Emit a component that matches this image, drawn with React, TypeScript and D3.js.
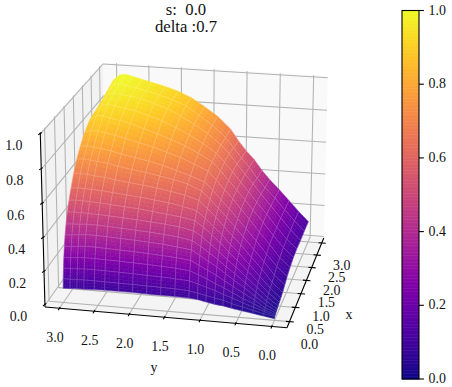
import React from "react";
import * as d3 from "d3";

const W = 452, H = 387;
const titleLines = ["s:  0.0", "delta :0.7"];
const tickX = [0, 0.5, 1, 1.5, 2, 2.5, 3];
const tickY = [0, 0.5, 1, 1.5, 2, 2.5, 3];
const tickZ = [0, 0.2, 0.4, 0.6, 0.8, 1];
const barTicks = [0, 0.2, 0.4, 0.6, 0.8, 1];

const xValues = [0, 0.015, 0.04, 0.07, 0.11, 0.16, 0.22, 0.3, 0.4, 0.52, 0.67, 0.85, 1.05, 1.3, 1.6, 1.9, 2.25, 2.6, 3];
const yValues = [0, 0.15, 0.3, 0.45, 0.6, 0.72, 0.84, 0.96, 1.08, 1.2, 1.4, 1.6, 1.8, 2, 2.2, 2.4, 2.55, 2.7, 2.8, 2.9, 3];
// one row per x value, one column per y value
const zValues = [
  [0, 0.01, 0.02, 0.03, 0.04, 0.05, 0.055, 0.065, 0.075, 0.08, 0.082, 0.082, 0.083, 0.085, 0.085, 0.085, 0.083, 0.08, 0.08, 0.078, 0.075],
  [0.01, 0.02, 0.035, 0.05, 0.065, 0.08, 0.09, 0.1, 0.11, 0.12, 0.125, 0.127, 0.128, 0.13, 0.131, 0.132, 0.133, 0.133, 0.132, 0.13, 0.13],
  [0.01, 0.03, 0.05, 0.07, 0.095, 0.11, 0.13, 0.145, 0.16, 0.175, 0.18, 0.185, 0.187, 0.19, 0.192, 0.194, 0.195, 0.195, 0.193, 0.19, 0.19],
  [0.012, 0.035, 0.065, 0.09, 0.12, 0.145, 0.165, 0.19, 0.21, 0.23, 0.238, 0.243, 0.247, 0.25, 0.253, 0.255, 0.257, 0.257, 0.255, 0.25, 0.25],
  [0.015, 0.04, 0.08, 0.115, 0.15, 0.18, 0.21, 0.235, 0.26, 0.285, 0.295, 0.3, 0.305, 0.31, 0.313, 0.316, 0.319, 0.319, 0.316, 0.31, 0.31],
  [0.017, 0.05, 0.095, 0.14, 0.18, 0.215, 0.25, 0.28, 0.31, 0.34, 0.35, 0.36, 0.365, 0.37, 0.374, 0.378, 0.381, 0.381, 0.377, 0.372, 0.37],
  [0.02, 0.06, 0.11, 0.16, 0.21, 0.245, 0.285, 0.32, 0.355, 0.385, 0.4, 0.408, 0.415, 0.42, 0.425, 0.43, 0.433, 0.433, 0.43, 0.428, 0.425],
  [0.025, 0.07, 0.125, 0.18, 0.235, 0.275, 0.32, 0.36, 0.4, 0.43, 0.447, 0.456, 0.463, 0.47, 0.475, 0.48, 0.483, 0.485, 0.487, 0.487, 0.485],
  [0.03, 0.08, 0.14, 0.2, 0.26, 0.305, 0.355, 0.4, 0.44, 0.475, 0.49, 0.5, 0.51, 0.52, 0.526, 0.532, 0.537, 0.54, 0.542, 0.543, 0.54],
  [0.035, 0.09, 0.155, 0.22, 0.285, 0.33, 0.385, 0.43, 0.475, 0.515, 0.535, 0.55, 0.56, 0.57, 0.578, 0.586, 0.592, 0.595, 0.597, 0.598, 0.595],
  [0.045, 0.1, 0.175, 0.24, 0.31, 0.36, 0.41, 0.465, 0.51, 0.555, 0.58, 0.595, 0.61, 0.62, 0.63, 0.64, 0.65, 0.655, 0.66, 0.662, 0.66],
  [0.06, 0.115, 0.19, 0.26, 0.33, 0.385, 0.44, 0.49, 0.54, 0.585, 0.62, 0.64, 0.655, 0.67, 0.682, 0.695, 0.708, 0.715, 0.72, 0.725, 0.72],
  [0.08, 0.135, 0.205, 0.28, 0.35, 0.405, 0.46, 0.51, 0.565, 0.61, 0.64, 0.665, 0.69, 0.71, 0.725, 0.74, 0.755, 0.765, 0.77, 0.775, 0.77],
  [0.095, 0.15, 0.225, 0.295, 0.37, 0.425, 0.485, 0.535, 0.59, 0.64, 0.675, 0.71, 0.735, 0.76, 0.78, 0.8, 0.815, 0.825, 0.835, 0.835, 0.82],
  [0.11, 0.165, 0.235, 0.31, 0.38, 0.44, 0.495, 0.55, 0.605, 0.655, 0.7, 0.74, 0.77, 0.8, 0.825, 0.85, 0.865, 0.875, 0.885, 0.885, 0.86],
  [0.115, 0.17, 0.24, 0.315, 0.385, 0.445, 0.5, 0.56, 0.615, 0.665, 0.72, 0.765, 0.805, 0.84, 0.865, 0.89, 0.9, 0.91, 0.92, 0.91, 0.87],
  [0.115, 0.175, 0.245, 0.315, 0.385, 0.445, 0.5, 0.56, 0.62, 0.67, 0.735, 0.785, 0.83, 0.87, 0.895, 0.92, 0.93, 0.94, 0.945, 0.93, 0.885],
  [0.12, 0.18, 0.245, 0.315, 0.375, 0.43, 0.495, 0.55, 0.61, 0.67, 0.74, 0.795, 0.85, 0.88, 0.905, 0.925, 0.94, 0.95, 0.96, 0.95, 0.905],
  [0.12, 0.18, 0.245, 0.31, 0.37, 0.425, 0.49, 0.54, 0.6, 0.67, 0.745, 0.8, 0.85, 0.885, 0.91, 0.93, 0.945, 0.96, 0.97, 0.965, 0.93],
];

const xLim: [number, number] = [-0.21, 3.21];
const yLim: [number, number] = [-0.21, 3.21];
const zLim: [number, number] = [-0.01, 1.01];
const elev = (20 * Math.PI) / 180, azim = (192 * Math.PI) / 180, dist = 10;
const scaleS = 2002, originX = 190.3, originY = 188.3;

const sx = d3.scaleLinear().domain(xLim).range([-0.595, 0.595]);
const sy = d3.scaleLinear().domain(yLim).range([-0.595, 0.595]);
const sz = d3.scaleLinear().domain(zLim).range([-0.4465, 0.4465]);

const w = [Math.cos(elev) * Math.cos(azim), Math.cos(elev) * Math.sin(azim), Math.sin(elev)];
const un = Math.hypot(w[0], w[1]);
const u = [-w[1] / un, w[0] / un, 0];
const v = [w[1] * u[2] - w[2] * u[1], w[2] * u[0] - w[0] * u[2], w[0] * u[1] - w[1] * u[0]];

type P = [number, number];
function proj(x: number, y: number, z: number): P {
  const p = [sx(x), sy(y), sz(z)];
  const dot = (a: number[]) => a[0] * p[0] + a[1] * p[1] + a[2] * p[2];
  const d = dist - dot(w);
  return [originX + (scaleS * dot(u)) / d, originY - (scaleS * dot(v)) / d];
}

const line = d3.line<P>();
const closed = (pts: P[]) => line(pts) + "Z";
const color = d3.scaleSequential(d3.interpolatePlasma).domain([0, 1]);

const fontFamily = "Liberation Serif";
const gridColor = "#b2b2b2";

function Panes() {
  const [x0, x1] = xLim, [y0, y1] = yLim, [z0, z1] = zLim;
  const grid: [P, P][] = [];
  tickY.forEach((t) => {
    grid.push([proj(x0, t, z0), proj(x1, t, z0)]);
    grid.push([proj(x1, t, z0), proj(x1, t, z1)]);
  });
  tickX.forEach((t) => {
    grid.push([proj(t, y0, z0), proj(t, y1, z0)]);
    grid.push([proj(t, y1, z0), proj(t, y1, z1)]);
  });
  tickZ.forEach((t) => {
    grid.push([proj(x0, y1, t), proj(x1, y1, t)]);
    grid.push([proj(x1, y1, t), proj(x1, y0, t)]);
  });
  return (
    <g>
      <path d={closed([proj(x1, y0, z0), proj(x1, y1, z0), proj(x1, y1, z1), proj(x1, y0, z1)])} fill="#f9f9f9" />
      <path d={closed([proj(x0, y1, z0), proj(x1, y1, z0), proj(x1, y1, z1), proj(x0, y1, z1)])} fill="#f2f2f2" />
      <path d={closed([proj(x0, y0, z0), proj(x1, y0, z0), proj(x1, y1, z0), proj(x0, y1, z0)])} fill="#f4f4f4" />
      {grid.map((g, i) => (
        <path key={i} d={line(g) as string} stroke={gridColor} strokeWidth={1.05} fill="none" />
      ))}
    </g>
  );
}

function Surface() {
  const cells: React.ReactNode[] = [];
  const sub = 3;
  for (let i = xValues.length - 2; i >= 0; i--) {
    for (let j = yValues.length - 2; j >= 0; j--) {
      const xa = d3.interpolateNumber(xValues[i], xValues[i + 1]);
      const ya = d3.interpolateNumber(yValues[j], yValues[j + 1]);
      const h = (a: number, b: number) =>
        zValues[i][j] * (1 - a) * (1 - b) +
        zValues[i + 1][j] * a * (1 - b) +
        zValues[i][j + 1] * (1 - a) * b +
        zValues[i + 1][j + 1] * a * b;
      for (let a = sub - 1; a >= 0; a--) {
        for (let b = sub - 1; b >= 0; b--) {
          const a0 = a / sub, a1 = (a + 1) / sub, b0 = b / sub, b1 = (b + 1) / sub;
          const c = color(Math.min(1, h((a0 + a1) / 2, (b0 + b1) / 2) * 1.03));
          cells.push(
            <path
              key={`${i}-${j}-${a}-${b}`}
              d={closed([
                proj(xa(a0), ya(b0), h(a0, b0)),
                proj(xa(a1), ya(b0), h(a1, b0)),
                proj(xa(a1), ya(b1), h(a1, b1)),
                proj(xa(a0), ya(b1), h(a0, b1)),
              ])}
              fill={c}
              stroke={c}
              strokeWidth={0.5}
            />
          );
        }
      }
      cells.push(
        <path
          key={`s${i}-${j}`}
          d={closed([
            proj(xValues[i], yValues[j], zValues[i][j]),
            proj(xValues[i + 1], yValues[j], zValues[i + 1][j]),
            proj(xValues[i + 1], yValues[j + 1], zValues[i + 1][j + 1]),
            proj(xValues[i], yValues[j + 1], zValues[i][j + 1]),
          ])}
          fill="none"
          stroke="rgba(255,255,255,0.26)"
          strokeWidth={0.6}
        />
      );
    }
  }
  return <g>{cells}</g>;
}

function Axes() {
  const [x0, x1] = xLim, [y0, y1] = yLim, [z0, z1] = zLim;
  const axes: [P, P][] = [
    [proj(x0, y1, z0), proj(x0, y1, z1)],
    [proj(x0, y1, z0), proj(x0, y0, z0)],
    [proj(x0, y0, z0), proj(x1, y0, z0)],
  ];
  const ticks: [P, P][] = [];
  tickZ.forEach((t) => ticks.push([proj(x0 - 0.03, y1 + 0.02, t), proj(x0 + 0.07, y1, t)]));
  tickY.forEach((t) => ticks.push([proj(x0 - 0.07, t, z0), proj(x0 + 0.04, t, z0)]));
  tickX.forEach((t) => ticks.push([proj(t, y0 - 0.06, z0), proj(t, y0 + 0.05, z0)]));
  const text = (x: number, y: number, s: string, key: string) => (
    <text key={key} x={x} y={y} textAnchor="middle" dominantBaseline="central" fontSize={13.9} fontFamily={fontFamily} fill="#111">
      {s}
    </text>
  );
  return (
    <g>
      {axes.map((a, i) => <path key={i} d={line(a) as string} stroke="#000" strokeWidth={1.1} />)}
      {ticks.map((a, i) => <path key={`t${i}`} d={line(a) as string} stroke="#000" strokeWidth={1.1} />)}
      {tickZ.map((t) => {
        const p = proj(x0, y1, t);
        return text(p[0] - 26.5, p[1] + 11.5, t.toFixed(1), `z${t}`);
      })}
      {tickY.map((t) => {
        const p = proj(x0, t, z0);
        return text(p[0] - 4.5, p[1] + 29, t.toFixed(1), `y${t}`);
      })}
      {tickX.map((t) => {
        const p = proj(t, y0, z0);
        return text(p[0] + 20, p[1] + 22.5, t.toFixed(1), `x${t}`);
      })}
      {text(349, 314, "x", "xl")}
      {text(154, 367, "y", "yl")}
    </g>
  );
}

function Colorbar() {
  const bx = 402, bw = 17, top = 10.5, bottom = 379;
  const by = d3.scaleLinear().domain([0, 1]).range([bottom, top]);
  const steps = d3.range(256);
  return (
    <g>
      {steps.map((s) => (
        <rect key={s} x={bx} width={bw} y={by((s + 1) / 256)} height={by(s / 256) - by((s + 1) / 256) + 0.5} fill={color((s + 0.5) / 256)} />
      ))}
      <rect x={bx} y={top} width={bw} height={bottom - top} fill="none" stroke="#000" strokeWidth={1.1} />
      {barTicks.map((t) => (
        <g key={t}>
          <line x1={bx + bw} x2={bx + bw + 4.9} y1={by(t)} y2={by(t)} stroke="#000" strokeWidth={1.1} />
          <text x={bx + bw + 9.5} y={by(t) - 0.5} dominantBaseline="central" fontSize={13.9} fontFamily={fontFamily} fill="#111">
            {t.toFixed(1)}
          </text>
        </g>
      ))}
    </g>
  );
}

export default function App() {
  return (
    <svg width={W} height={H} viewBox={`0 0 ${W} ${H}`} style={{ position: "absolute", left: 0, top: 0, display: "block" }}>
      <rect width={W} height={H} fill="#fff" />
      <Panes />
      <Surface />
      <Axes />
      <Colorbar />
      {titleLines.map((t, i) => (
        <text key={t} x={186} y={9 + i * 17} textAnchor="middle" dominantBaseline="central" fontSize={16.67} fontFamily={fontFamily} fill="#111" xmlSpace="preserve">
          {t}
        </text>
      ))}
    </svg>
  );
}
